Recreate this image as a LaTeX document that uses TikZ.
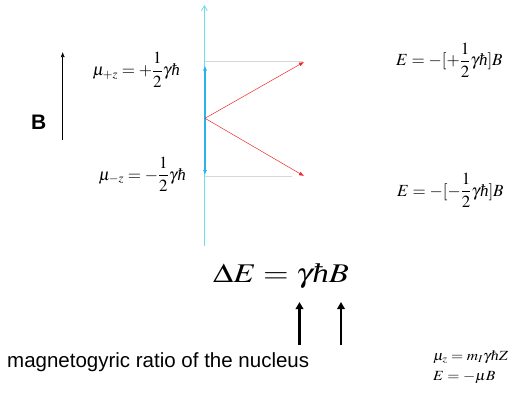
\documentclass[tikz,border=0pt]{standalone}
\usepackage{amsmath}
\usepackage{mathptmx}
\usepackage{graphicx}
\usepackage{fontspec}
\setsansfont{Liberation Sans}
\newfontfamily\tnr{Liberation Serif}
\newcommand{\hb}{\text{\tnr\itshape ħ}}
\usetikzlibrary{arrows.meta}
\definecolor{axiscyan}{RGB}{110,220,235}
\definecolor{momblue}{RGB}{40,180,235}
\definecolor{lvlgray}{RGB}{215,215,215}
\definecolor{trred}{RGB}{240,40,40}
\tikzset{
  eq/.style={inner sep=0pt, font=\fontsize{17}{20}\selectfont},
  smalleq/.style={inner sep=0pt, font=\fontsize{14}{16}\selectfont},
  level/.style={draw=lvlgray, line width=1.2pt},
  trans/.style={draw=trred, line width=0.5pt, -{Latex[length=5pt,width=4pt]}},
  bigarrow/.style={draw=black, line width=2.5pt, -{Triangle[length=7pt,width=7.5pt]}}
}
\begin{document}
\begin{tikzpicture}[x=1pt,y=-1pt]
\useasboundingbox (0,0) rectangle (521,396);
% axis
\coordinate (axB) at (204.3,246);
\coordinate (axT) at (204.3,5);
\draw[axiscyan, line width=0.8pt, -{Straight Barb[length=5pt,width=6pt]}] (axB) -- (axT);
% levels
\coordinate (upL) at (205,61.7);
\coordinate (upR) at (303,61.7);
\coordinate (dnL) at (205,176.7);
\coordinate (dnR) at (292,176.7);
\draw[level] (upL) -- (upR);
\draw[level] (dnL) -- (dnR);
% moment double arrow
\coordinate (mt) at (205,65.5);
\coordinate (mb) at (205,175);
\draw[momblue, line width=1.2pt, {Latex[length=5pt,width=4pt]}-{Latex[length=5pt,width=4pt]}] (mt) -- (mb);
% transitions
\coordinate (c) at (205,118.3);
\coordinate (tu) at (304,62);
\coordinate (td) at (304,176);
\draw[trans] (c) -- (tu);
\draw[trans] (c) -- (td);
% B field
\coordinate (Bb) at (62.7,140);
\coordinate (Bt) at (62.7,52);
\draw[black, line width=0.6pt, -{Latex[length=5pt,width=4pt]}] (Bb) -- (Bt);
\node[inner sep=0pt, font=\sffamily\bfseries\fontsize{21}{24}\selectfont] (Blab) at (38.7,122.5) {B};
% equations
\node[eq, anchor=base east] (mup) at (180,75.5) {$\mu_{+z}=+\dfrac{1}{2}\gamma\hb$};
\node[eq, anchor=base east] (mdn) at (186,180) {$\mu_{-z}=-\dfrac{1}{2}\gamma\hb$};
\node[eq, anchor=base west] (Eup) at (396,65.7) {$E=-[+\dfrac{1}{2}\gamma\hb]B$};
\node[eq, anchor=base west] (Edn) at (397,196) {$E=-[-\dfrac{1}{2}\gamma\hb]B$};
\node[inner sep=0pt, anchor=base west, font=\fontsize{27}{30}\selectfont] (dE) at (213,282.3) {\scalebox{1.22}[1]{$\Delta E=\gamma\hb B$}};
% bottom arrows
\coordinate (a1b) at (299.5,345);
\coordinate (a1t) at (299.5,302);
\coordinate (a2b) at (341,345);
\coordinate (a2t) at (341,302);
\draw[bigarrow] (a1b) -- (a1t);
\draw[bigarrow] (a2b) -- (a2t);
\node[inner sep=0pt, anchor=base west, font=\sffamily\fontsize{20.5}{24}\selectfont] (gyro) at (7,367) {magnetogyric ratio of the nucleus};
\node[smalleq, anchor=base west] (muz) at (433,360.7) {\scalebox{1.12}[1]{$\mu_z=m_I\gamma\hb Z$}};
\node[smalleq, anchor=base west] (EmB) at (433,380) {\scalebox{1.12}[1]{$E=-\mu B$}};
\end{tikzpicture}
\end{document}
